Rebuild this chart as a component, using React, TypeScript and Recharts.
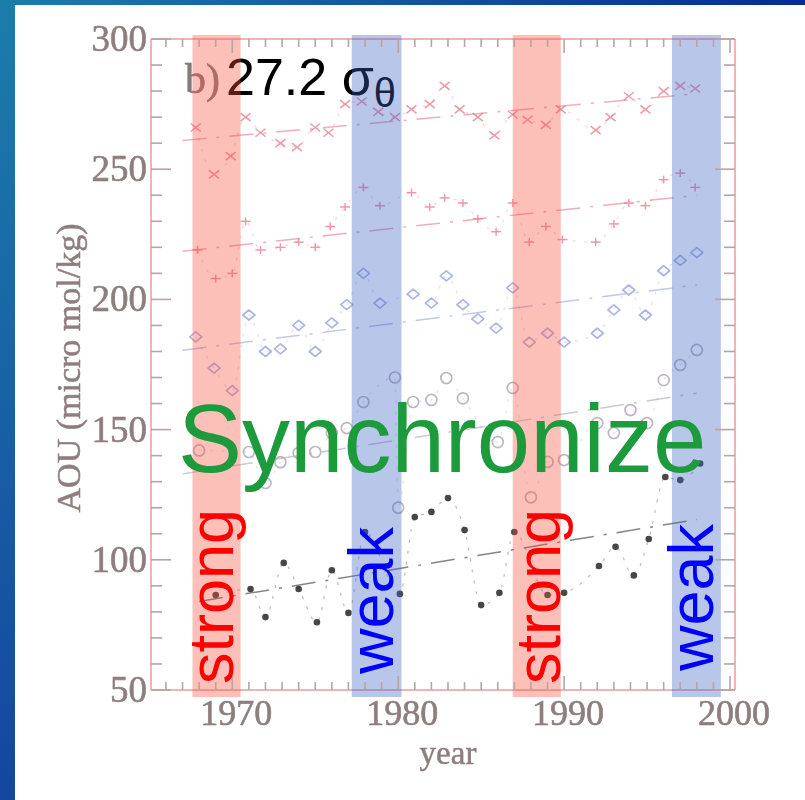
import React from 'react';
import { ComposedChart, Line, Scatter, XAxis, YAxis, ReferenceArea } from 'recharts';

const W = 805;
const H = 800;
const SERIF = '"Liberation Serif", "Times New Roman", serif';
const SANS = '"Liberation Sans", Arial, sans-serif';

// axis ticks
const xMajor = [1970, 1980, 1990, 2000];
const yMajor = [50, 100, 150, 200, 250, 300];
const xMinor = Array.from({ length: 35 }, (_, i) => 1966 + i);
const yMinor = Array.from({ length: 26 }, (_, i) => 50 + i * 10);

// shaded periods (annotation bands)
const strongBands = [[1967.6, 1970.5], [1986.9, 1989.8]];
const weakBands = [[1977.2, 1980.2], [1996.5, 1999.45]];

// AOU values: [year, AOU]
const crossPts = [
  [1967.8, 266], [1968.9, 248], [1969.9, 255], [1970.8, 270], [1971.7, 264], [1972.9, 260],
  [1973.9, 258.5], [1975.0, 266], [1975.8, 264], [1976.8, 275], [1977.8, 276], [1978.8, 272],
  [1979.8, 270], [1980.8, 273], [1981.9, 275], [1982.8, 282], [1983.7, 273], [1984.8, 270],
  [1985.8, 263], [1986.9, 271], [1987.8, 269], [1988.9, 267], [1989.8, 273], [1991.9, 265],
  [1992.8, 270], [1993.9, 278], [1994.9, 273], [1996.0, 280], [1997.0, 282], [1997.9, 281],
];
const plusPts = [
  [1967.9, 219], [1969.0, 208], [1970.0, 210], [1970.8, 230], [1971.7, 219], [1972.9, 220],
  [1974.0, 222], [1975.0, 220], [1975.9, 228], [1976.8, 235.5], [1977.9, 243], [1978.9, 236],
  [1980.8, 241], [1981.9, 235.5], [1982.8, 239], [1983.9, 237], [1984.8, 231], [1985.9, 226],
  [1986.9, 237], [1987.9, 222], [1988.9, 228], [1989.9, 223], [1991.9, 222], [1993.0, 229],
  [1993.9, 237], [1994.9, 236], [1996.0, 246], [1997.0, 248.5], [1997.9, 243],
];
const diamondPts = [
  [1967.8, 185.6], [1968.9, 173.6], [1970.0, 165], [1971.0, 194], [1972.0, 180], [1972.9, 181],
  [1974.0, 190], [1975.0, 180], [1976.0, 191], [1976.9, 198], [1977.9, 210], [1978.9, 198.6],
  [1980.9, 202], [1982.0, 198.6], [1982.9, 209], [1983.9, 198], [1984.8, 192.5], [1985.9, 189],
  [1986.9, 204.4], [1987.9, 183.6], [1989.0, 187], [1990.0, 183.6], [1992.0, 187], [1993.0, 196],
  [1993.9, 203.6], [1994.9, 194], [1996.0, 211], [1997.0, 215], [1998.0, 218],
];
const circlePts = [
  [1968.0, 142], [1971.0, 141.4], [1972.0, 129.5], [1972.9, 137.5], [1974.0, 141], [1975.0, 141.4],
  [1976.0, 148.7], [1976.9, 150.6], [1977.9, 160.6], [1979.8, 170], [1980.0, 120], [1980.9, 160.6],
  [1982.0, 161.4], [1982.9, 169.8], [1983.9, 162], [1986.0, 145.2], [1986.9, 166], [1988.0, 124],
  [1989.0, 137.6], [1990.0, 138.3], [1992.0, 152.5], [1993.0, 148.7], [1994.0, 157.5], [1995.0, 152.5],
  [1996.0, 169], [1997.0, 174.8], [1998.0, 180.6],
];
const dotPts = [
  [1969.0, 86.5], [1971.1, 88.8], [1972.0, 78], [1973.1, 98.8], [1974.0, 88.8], [1975.1, 76],
  [1976.0, 96], [1977.0, 79.6], [1978.0, 110.7], [1980.1, 86.9], [1981.0, 116.4], [1982.0, 118.4],
  [1983.0, 123.7], [1984.0, 111.4], [1985.0, 82.6], [1986.1, 87.3], [1987.0, 110.7], [1989.0, 86.5],
  [1990.0, 87.3], [1992.1, 97.6], [1993.1, 105], [1994.2, 94], [1995.1, 108], [1996.1, 131.8],
  [1997.0, 130.6], [1998.2, 137],
];

// linear trends, end points
const crossTrend = [[1967, 261], [1998, 279]];
const plusTrend = [[1967, 218.5], [1998, 240]];
const diamondTrend = [[1967, 180.5], [1998, 205.6]];
const circleTrend = [[1967, 133], [1998, 164]];
const dotTrend = [[1968, 84], [1998, 115.5]];

const toXY = (arr: number[][]) => arr.map(([x, y]) => ({ x, y }));

const RED = '#e8788c';
const BLUE = '#98a3dc';
const GREY = '#b0a2b4';
const BLACK = '#333333';
const AXIS = '#efb4b4';
const TICK = '#b8a4a4';
const LABEL = '#8e7e7e';

const CrossShape = (p: any) => (
  <g stroke={RED} strokeWidth={1.5} opacity={0.75}>
    <line x1={p.cx - 5} y1={p.cy - 4} x2={p.cx + 5} y2={p.cy + 4} />
    <line x1={p.cx - 5} y1={p.cy + 4} x2={p.cx + 5} y2={p.cy - 4} />
  </g>
);
const PlusShape = (p: any) => (
  <g stroke={RED} strokeWidth={1.5} opacity={0.75}>
    <line x1={p.cx - 5} y1={p.cy} x2={p.cx + 5} y2={p.cy} />
    <line x1={p.cx} y1={p.cy - 4} x2={p.cx} y2={p.cy + 4} />
  </g>
);
const DiamondShape = (p: any) => (
  <polygon
    points={`${p.cx - 6},${p.cy} ${p.cx},${p.cy - 5} ${p.cx + 6},${p.cy} ${p.cx},${p.cy + 5}`}
    fill="none" stroke={BLUE} strokeWidth={1.7} strokeLinejoin="round" opacity={0.8}
  />
);
const CircleShape = (p: any) => (
  <circle cx={p.cx} cy={p.cy} r={5.5} fill="none" stroke={GREY} strokeWidth={1.7} opacity={0.8} />
);
const DotShape = (p: any) => <circle cx={p.cx} cy={p.cy} r={3.3} fill={BLACK} opacity={0.9} />;

function BottomTick(props: any) {
  const { x, y, payload } = props;
  const major = xMajor.includes(payload.value);
  return (
    <g>
      <line x1={x} x2={x} y1={y} y2={y - (major ? 14 : 8)} stroke={TICK} strokeWidth={1.6} />
      {major && (
        <text x={x + 4} y={y + 35} textAnchor="middle" fontFamily={SERIF} fontSize={36} fill={LABEL}
          stroke={LABEL} strokeWidth={0.6}>
          {payload.value}
        </text>
      )}
    </g>
  );
}
function TopTick(props: any) {
  const { x, y, payload } = props;
  const major = xMajor.includes(payload.value);
  return <line x1={x} x2={x} y1={y} y2={y + (major ? 14 : 8)} stroke={TICK} strokeWidth={1.6} />;
}
function LeftTick(props: any) {
  const { x, y, payload } = props;
  const major = yMajor.includes(payload.value);
  return (
    <g>
      <line x1={x} x2={x + (major ? 20 : 11)} y1={y} y2={y} stroke={TICK} strokeWidth={1.6} />
      {major && (
        <text x={x - 4} y={y + 12} textAnchor="end" fontFamily={SERIF} fontSize={37} fill={LABEL}
          stroke={LABEL} strokeWidth={0.6}>
          {payload.value}
        </text>
      )}
    </g>
  );
}
function RightTick(props: any) {
  const { x, y, payload } = props;
  const major = yMajor.includes(payload.value);
  return <line x1={x} x2={x - (major ? 20 : 11)} y1={y} y2={y} stroke={TICK} strokeWidth={1.6} />;
}

const series = [
  { pts: crossPts, trend: crossTrend, color: RED, shape: CrossShape },
  { pts: plusPts, trend: plusTrend, color: RED, shape: PlusShape },
  { pts: diamondPts, trend: diamondTrend, color: BLUE, shape: DiamondShape },
  { pts: circlePts, trend: circleTrend, color: GREY, shape: CircleShape },
  { pts: dotPts, trend: dotTrend, color: BLACK, shape: DotShape },
];

export default function App() {
  return (
    <div style={{ position: 'absolute', left: 0, top: 0, width: W, height: H, background: '#fff', overflow: 'hidden' }}>
      <div style={{ position: 'absolute', left: 0, top: 0, width: 15, height: H, background: 'linear-gradient(#1b7dab, #1446a0)' }} />
      <div style={{ position: 'absolute', left: 0, top: 0, width: W, height: 5, background: 'linear-gradient(90deg, #1b7dab, #0a2a95)' }} />

      {/* underlay texts (bands are drawn over them) */}
      <svg width={W} height={H} style={{ position: 'absolute', left: 0, top: 0 }}>
        <text x={185} y={93} fontFamily={SERIF} fontSize={42} fill="#857a7a" stroke="#857a7a" strokeWidth={0.6}
          style={{ filter: 'blur(0.7px)' }}>b)</text>
        <text x={226} y={95} fontFamily={SANS} fontSize={52} fill="#000">
          27.2 σ<tspan fontSize={40} dy={12}>θ</tspan>
        </text>
        <text transform="translate(80,368) rotate(-90)" textAnchor="middle" fontFamily={SERIF} fontSize={34} fill={LABEL}
          stroke={LABEL} strokeWidth={0.5} style={{ filter: 'blur(0.7px)' }}>
          AOU (micro mol/kg)
        </text>
        <text x={448} y={764} textAnchor="middle" fontFamily={SERIF} fontSize={33} fill={LABEL}
          stroke={LABEL} strokeWidth={0.5} style={{ filter: 'blur(0.7px)' }}>
          year
        </text>
      </svg>

      <div style={{ position: 'absolute', left: 0, top: 0, filter: 'blur(0.7px)' }}>
        <ComposedChart width={W} height={H} margin={{ top: 19, right: 50, bottom: 50, left: 91 }}>
          <XAxis dataKey="x" type="number" domain={[1965.1, 2000.3]} ticks={xMinor} interval={0}
            tick={<BottomTick />} tickLine={false} tickSize={0} tickMargin={0} height={60}
            axisLine={{ stroke: AXIS, strokeWidth: 2 }} allowDataOverflow />
          <XAxis xAxisId="top" orientation="top" dataKey="x" type="number" domain={[1965.1, 2000.3]} ticks={xMinor} interval={0}
            tick={<TopTick />} tickLine={false} tickSize={0} tickMargin={0} height={20}
            axisLine={{ stroke: AXIS, strokeWidth: 2 }} allowDataOverflow />
          <YAxis dataKey="y" type="number" domain={[50, 300]} ticks={yMinor} interval={0}
            tick={<LeftTick />} tickLine={false} tickSize={0} tickMargin={0} width={60}
            axisLine={{ stroke: AXIS, strokeWidth: 2 }} allowDataOverflow />
          <YAxis yAxisId="right" orientation="right" dataKey="y" type="number" domain={[50, 300]} ticks={yMinor} interval={0}
            tick={<RightTick />} tickLine={false} tickSize={0} tickMargin={0} width={20}
            axisLine={{ stroke: AXIS, strokeWidth: 2 }} allowDataOverflow />

          {series.map((s, i) => (
            <Line key={`tr${i}`} data={toXY(s.trend)} dataKey="y" type="linear" stroke={s.color} strokeOpacity={0.6}
              strokeWidth={1.5} strokeDasharray="24 10 3 10" dot={false} activeDot={false} isAnimationActive={false} />
          ))}
          {series.map((s, i) => (
            <Line key={`sm${i}`} data={toXY(s.pts)} dataKey="y" type="monotone" stroke={s.color} strokeOpacity={0.3}
              strokeWidth={1.3} strokeDasharray="3 8" dot={false} activeDot={false} isAnimationActive={false} />
          ))}
          {series.map((s, i) => (
            <Scatter key={`sc${i}`} data={toXY(s.pts)} dataKey="y" shape={s.shape} isAnimationActive={false} />
          ))}

          {strongBands.map(([a, b], i) => (
            <ReferenceArea key={`sb${i}`} x1={a} x2={b} y1={47.3} y2={301.5} fill="rgb(250,80,60)" fillOpacity={0.36}
              stroke="none" ifOverflow="visible" zIndex={1500} />
          ))}
          {weakBands.map(([a, b], i) => (
            <ReferenceArea key={`wb${i}`} x1={a} x2={b} y1={47.3} y2={301.5} fill="rgb(58,97,197)" fillOpacity={0.36}
              stroke="none" ifOverflow="visible" zIndex={1500} />
          ))}
        </ComposedChart>
      </div>

      {/* overlay annotations */}
      <svg width={W} height={H} style={{ position: 'absolute', left: 0, top: 0, pointerEvents: 'none' }}>
        <text x={178} y={472} fontFamily={SANS} fontSize={96} fill="#1c9a3c">Synchronize</text>
        <text transform="translate(233,684) rotate(-90)" fontFamily={SANS} fontSize={63} fill="#ff0000">strong</text>
        <text transform="translate(560,684) rotate(-90)" fontFamily={SANS} fontSize={63} fill="#ff0000">strong</text>
        <text transform="translate(393,674) rotate(-90)" fontFamily={SANS} fontSize={63} fill="#0000ff">weak</text>
        <text transform="translate(713,671) rotate(-90)" fontFamily={SANS} fontSize={63} fill="#0000ff">weak</text>
      </svg>
    </div>
  );
}
